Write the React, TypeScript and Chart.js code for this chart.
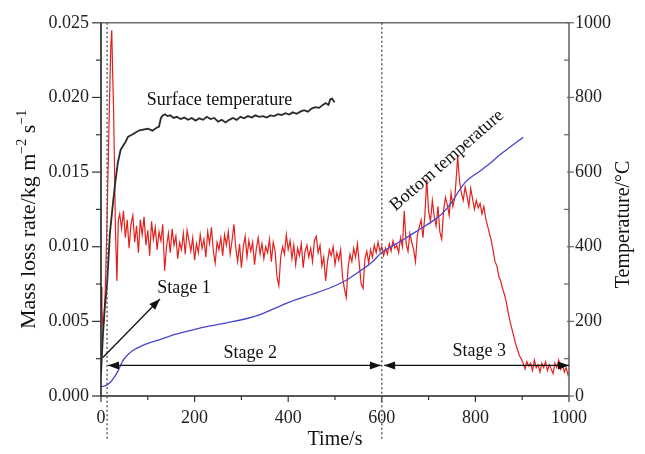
import React, { useEffect, useRef } from 'react';
import { Chart, registerables } from 'chart.js';

Chart.register(...registerables);

const FONT = '"Liberation Serif", "Times New Roman", serif';

// Mass loss rate (kg m^-2 s^-1) vs time (s)
const massLossRate: [number, number][] = [
  [0, 0.0073], [2, 0.0058], [4, 0.0046], [6, 0.0050], [9, 0.0070], [12, 0.0105], [15, 0.0150],
  [18, 0.0195], [21, 0.0235], [23, 0.0245], [25, 0.0215], [27, 0.0190], [29, 0.0150], [31, 0.0110],
  [34, 0.0077], [37, 0.0118],
  [40, 0.0122], [44, 0.0112], [48, 0.0124], [52, 0.0106], [56, 0.0118], [60, 0.0099], [64, 0.0115],
  [68, 0.0121], [72, 0.0103], [76, 0.0114], [80, 0.0096], [84, 0.0118], [88, 0.0108], [92, 0.0120],
  [96, 0.0101], [100, 0.0111], [104, 0.0094], [108, 0.0117], [112, 0.0105], [116, 0.0113], [120, 0.0098],
  [124, 0.0110], [128, 0.0104], [132, 0.0115], [136, 0.0084], [140, 0.0100], [144, 0.0109], [148, 0.0096],
  [152, 0.0112], [156, 0.0101], [160, 0.0107], [164, 0.0092], [168, 0.0103], [172, 0.0098], [176, 0.0109],
  [180, 0.0095], [184, 0.0111], [188, 0.0104], [192, 0.0097], [196, 0.0106], [200, 0.0091], [204, 0.0102],
  [208, 0.0096], [212, 0.0108], [216, 0.0099], [220, 0.0105], [224, 0.0093], [228, 0.0110], [232, 0.0102],
  [236, 0.0113], [240, 0.0097], [244, 0.0089], [248, 0.0103], [252, 0.0098], [256, 0.0106], [260, 0.0094],
  [264, 0.0108], [268, 0.0101], [272, 0.0110], [276, 0.0095], [280, 0.0104], [284, 0.0115], [288, 0.0099],
  [292, 0.0090], [296, 0.0102], [300, 0.0086], [304, 0.0100], [308, 0.0107], [312, 0.0093], [316, 0.0104],
  [320, 0.0097], [324, 0.0103], [328, 0.0088], [332, 0.0099], [336, 0.0106], [340, 0.0095], [344, 0.0102],
  [348, 0.0092], [352, 0.0100], [356, 0.0096], [360, 0.0105], [364, 0.0090], [368, 0.0103], [372, 0.0097],
  [376, 0.0080], [380, 0.0074], [384, 0.0093], [388, 0.0100], [392, 0.0095], [396, 0.0108], [400, 0.0098],
  [404, 0.0104], [408, 0.0092], [412, 0.0101], [416, 0.0088], [420, 0.0099], [424, 0.0094], [428, 0.0102],
  [432, 0.0086], [436, 0.0097], [440, 0.0101], [444, 0.0093], [448, 0.0099], [452, 0.0090], [456, 0.0104],
  [460, 0.0107], [464, 0.0096], [468, 0.0101], [472, 0.0087], [476, 0.0093], [480, 0.0077], [484, 0.0090],
  [488, 0.0098], [492, 0.0094], [496, 0.0100], [500, 0.0088], [504, 0.0096], [508, 0.0091], [512, 0.0098],
  [516, 0.0080], [520, 0.0072], [524, 0.0066], [528, 0.0086], [532, 0.0095], [536, 0.0090], [540, 0.0099],
  [544, 0.0093], [548, 0.0102], [552, 0.0088], [556, 0.0075], [560, 0.0072], [564, 0.0092], [568, 0.0097],
  [572, 0.0089], [576, 0.0098], [580, 0.0093], [584, 0.0101], [588, 0.0096], [592, 0.0103], [596, 0.0097],
  [600, 0.0100], [604, 0.0094], [608, 0.0099], [612, 0.0095], [616, 0.0102], [620, 0.0097], [624, 0.0104],
  [628, 0.0099], [632, 0.0101], [636, 0.0096], [640, 0.0106], [644, 0.0100], [648, 0.0124], [652, 0.0102],
  [656, 0.0097], [660, 0.0109], [664, 0.0103], [668, 0.0098], [672, 0.0090], [676, 0.0108], [680, 0.0113],
  [684, 0.0118], [688, 0.0106], [692, 0.0121], [696, 0.0145], [700, 0.0124], [704, 0.0117], [708, 0.0131],
  [712, 0.0120], [716, 0.0114], [720, 0.0127], [724, 0.0110], [728, 0.0105], [732, 0.0124], [736, 0.0133],
  [740, 0.0128], [744, 0.0121], [748, 0.0136], [752, 0.0127], [756, 0.0133], [760, 0.0150], [762, 0.0161],
  [766, 0.0144], [770, 0.0136], [774, 0.0131], [778, 0.0140], [782, 0.0134], [786, 0.0127], [790, 0.0139],
  [794, 0.0132], [798, 0.0125], [802, 0.0131], [806, 0.0126], [810, 0.0129], [814, 0.0122], [818, 0.0127],
  [822, 0.0119], [826, 0.0114], [830, 0.0109], [834, 0.0104], [838, 0.0097], [842, 0.0090], [846, 0.0087],
  [850, 0.0080], [854, 0.0077], [858, 0.0072], [862, 0.0068], [866, 0.0063], [870, 0.0056], [874, 0.0050],
  [878, 0.0045], [882, 0.0040], [886, 0.0035], [890, 0.0031], [894, 0.0027], [898, 0.0025], [902, 0.0022],
  [906, 0.0018], [910, 0.0023], [914, 0.0020], [918, 0.0022], [922, 0.0017], [926, 0.0024], [930, 0.0019],
  [934, 0.0021], [938, 0.0016], [942, 0.0022], [946, 0.0019], [950, 0.0023], [954, 0.0017], [958, 0.0021],
  [962, 0.0018], [966, 0.0015], [970, 0.0022], [974, 0.0019], [978, 0.0024], [982, 0.0018], [986, 0.0021],
  [990, 0.0016], [994, 0.0019], [998, 0.0014], [1000, 0.0016],
];

// Surface temperature (°C) vs time (s)
const surfaceTemperature: [number, number][] = [
  [0, 60], [4, 160], [8, 235], [13, 300], [19, 435], [25, 510], [30, 568], [36, 625], [42, 660], [47, 670],
  [52, 680], [58, 695], [66, 700], [74, 706], [82, 712], [90, 714], [100, 716], [110, 711], [118, 718],
  [124, 722], [128, 745], [132, 752], [137, 755], [142, 750], [148, 752], [155, 745], [162, 748], [170, 742],
  [178, 746], [186, 740], [194, 745], [202, 738], [210, 744], [218, 740], [226, 748], [234, 742], [242, 745],
  [250, 735], [258, 740], [266, 733], [274, 740], [282, 745], [290, 740], [298, 748], [306, 744], [314, 750],
  [322, 746], [330, 752], [338, 748], [346, 750], [354, 746], [362, 752], [370, 750], [378, 755], [386, 753],
  [394, 758], [402, 754], [410, 760], [418, 756], [426, 762], [434, 766], [442, 762], [450, 770], [458, 774],
  [466, 772], [474, 780], [480, 785], [486, 780], [490, 795], [494, 797], [497, 790], [500, 788],
];

// Bottom temperature (°C) vs time (s)
const bottomTemperature: [number, number][] = [
  [0, 25], [10, 28], [20, 37], [28, 50], [35, 64], [41, 80], [47, 95], [55, 108], [68, 122], [85, 133],
  [100, 141], [120, 149], [150, 162], [190, 175], [230, 187], [276, 198], [310, 207], [340, 218], [370, 234],
  [404, 252], [450, 272], [490, 290], [521, 308], [550, 332], [580, 360], [600, 385], [620, 400], [650, 422],
  [680, 446], [710, 470], [730, 490], [750, 520], [765, 550], [780, 575], [795, 590], [810, 603], [830, 622],
  [853, 647], [875, 668], [902, 693],
];

const stageBoundaries = [13, 600];
const stageLabels = [
  { text: 'Stage 1', t: 120, temp: 289, align: 'left' as CanvasTextAlign },
  { text: 'Stage 2', t: 319, temp: 114, align: 'center' as CanvasTextAlign },
  { text: 'Stage 3', t: 808, temp: 119, align: 'center' as CanvasTextAlign },
];
const stage1Arrow = { from: [4, 103], to: [126, 260] };
const stageSpans = [
  { from: 15, to: 598, temp: 82 },
  { from: 605, to: 1000, temp: 82 },
];

const xTitle = 'Time/s';
const yTitle = 'Mass loss rate/kg m';
const y2Title = 'Temperature/°C';

function drawArrowHead(ctx: CanvasRenderingContext2D, x1: number, y1: number, x2: number, y2: number) {
  const ang = Math.atan2(y2 - y1, x2 - x1);
  const len = 11;
  const w = 4;
  ctx.beginPath();
  ctx.moveTo(x2, y2);
  ctx.lineTo(x2 - len * Math.cos(ang) + w * Math.sin(ang), y2 - len * Math.sin(ang) - w * Math.cos(ang));
  ctx.lineTo(x2 - len * Math.cos(ang) - w * Math.sin(ang), y2 - len * Math.sin(ang) + w * Math.cos(ang));
  ctx.closePath();
  ctx.fill();
}

const overlay = {
  id: 'overlay',
  afterDraw(chart: any) {
    const ctx: CanvasRenderingContext2D = chart.ctx;
    const { left, right, top, bottom } = chart.chartArea;
    const xs = chart.scales.x;
    const ys = chart.scales.y;
    const y2s = chart.scales.y2;
    ctx.save();

    // frame
    ctx.lineWidth = 1.6;
    ctx.strokeStyle = '#6a6a6a';
    ctx.beginPath();
    ctx.moveTo(left, top);
    ctx.lineTo(right, top);
    ctx.lineTo(right, bottom);
    ctx.stroke();
    ctx.strokeStyle = '#222';
    ctx.beginPath();
    ctx.moveTo(left, top);
    ctx.lineTo(left, bottom);
    ctx.lineTo(right, bottom);
    ctx.stroke();

    // ticks
    ctx.lineWidth = 1.2;
    ctx.strokeStyle = '#333';
    xs.ticks.forEach((tk: any) => {
      const px = xs.getPixelForValue(tk.value);
      const major = tk.label !== '';
      ctx.beginPath();
      ctx.moveTo(px, bottom);
      ctx.lineTo(px, bottom + (major ? 6 : 4));
      ctx.stroke();
    });
    ys.ticks.forEach((tk: any) => {
      const py = ys.getPixelForValue(tk.value);
      const major = tk.label !== '';
      ctx.beginPath();
      ctx.moveTo(left, py);
      ctx.lineTo(left - (major ? 9 : 5), py);
      ctx.stroke();
    });
    ctx.strokeStyle = '#666';
    y2s.ticks.forEach((tk: any) => {
      const py = y2s.getPixelForValue(tk.value);
      const major = tk.label !== '';
      ctx.beginPath();
      ctx.moveTo(right - (major ? 2 : 5), py);
      ctx.lineTo(right + (major ? 5 : 0), py);
      ctx.stroke();
    });

    // dotted stage boundaries
    ctx.strokeStyle = '#555';
    ctx.lineWidth = 1.4;
    ctx.setLineDash([2, 2.5]);
    stageBoundaries.forEach((t) => {
      const px = xs.getPixelForValue(t);
      ctx.beginPath();
      ctx.moveTo(px, top);
      ctx.lineTo(px, bottom + 44);
      ctx.stroke();
    });
    ctx.setLineDash([]);

    // arrows
    ctx.strokeStyle = '#111';
    ctx.fillStyle = '#111';
    ctx.lineWidth = 1.3;
    {
      const x1 = xs.getPixelForValue(stage1Arrow.from[0]);
      const y1 = y2s.getPixelForValue(stage1Arrow.from[1]);
      const x2 = xs.getPixelForValue(stage1Arrow.to[0]);
      const y2 = y2s.getPixelForValue(stage1Arrow.to[1]);
      ctx.beginPath();
      ctx.moveTo(x1, y1);
      ctx.lineTo(x2, y2);
      ctx.stroke();
      drawArrowHead(ctx, x1, y1, x2, y2);
    }
    stageSpans.forEach((s) => {
      const xa = xs.getPixelForValue(s.from);
      const xb = xs.getPixelForValue(s.to);
      const py = y2s.getPixelForValue(s.temp);
      ctx.beginPath();
      ctx.moveTo(xa, py);
      ctx.lineTo(xb, py);
      ctx.stroke();
      drawArrowHead(ctx, xb, py, xa, py);
      drawArrowHead(ctx, xa, py, xb, py);
    });

    // annotations
    ctx.fillStyle = '#111';
    ctx.font = `18px ${FONT}`;
    ctx.textBaseline = 'middle';
    stageLabels.forEach((l) => {
      ctx.textAlign = l.align;
      ctx.fillText(l.text, xs.getPixelForValue(l.t), y2s.getPixelForValue(l.temp));
    });
    ctx.textAlign = 'left';
    ctx.textBaseline = 'alphabetic';
    ctx.fillText('Surface temperature', xs.getPixelForValue(98), y2s.getPixelForValue(780));
    ctx.save();
    ctx.translate(xs.getPixelForValue(739), y2s.getPixelForValue(631));
    ctx.rotate((-41 * Math.PI) / 180);
    ctx.textAlign = 'center';
    ctx.textBaseline = 'middle';
    ctx.fillText('Bottom temperature', 0, 0);
    ctx.restore();

    // axis titles
    ctx.fillStyle = '#111';
    ctx.font = `20px ${FONT}`;
    ctx.textAlign = 'center';
    ctx.textBaseline = 'alphabetic';
    ctx.fillText(xTitle, (left + right) / 2, 445);

    // left title with superscripts
    ctx.save();
    ctx.translate(35, (top + bottom) / 2 + 10);
    ctx.rotate(-Math.PI / 2);
    const mainFont = `22px ${FONT}`;
    const supFont = `14px ${FONT}`;
    const parts: [string, boolean][] = [[yTitle, false], ['\u22122', true], [' s', false], ['\u22121', true]];
    let total = 0;
    parts.forEach(([s, sup]) => {
      ctx.font = sup ? supFont : mainFont;
      total += ctx.measureText(s).width;
    });
    let cx = -total / 2;
    ctx.textAlign = 'left';
    parts.forEach(([s, sup]) => {
      ctx.font = sup ? supFont : mainFont;
      ctx.fillText(s, cx, sup ? -9 : 0);
      cx += ctx.measureText(s).width;
    });
    ctx.restore();

    // right title
    ctx.save();
    ctx.translate(629, (top + bottom) / 2 + 15);
    ctx.rotate(-Math.PI / 2);
    ctx.font = `20px ${FONT}`;
    ctx.textAlign = 'center';
    ctx.fillText(y2Title, 0, 0);
    ctx.restore();

    ctx.restore();
  },
};

export default function App() {
  const ref = useRef<HTMLCanvasElement>(null);
  useEffect(() => {
    document.body.style.margin = '0';
    const canvas = ref.current!;
    const tickFont = { family: FONT, size: 18 };
    const chart = new Chart(canvas, {
      type: 'line',
      data: {
        datasets: [
          {
            label: 'Surface temperature',
            data: surfaceTemperature.map(([x, y]) => ({ x, y })),
            yAxisID: 'y2',
            borderColor: '#2a2a2a',
            borderWidth: 1.8,
            pointRadius: 0,
            tension: 0,
          },
          {
            label: 'Bottom temperature',
            data: bottomTemperature.map(([x, y]) => ({ x, y })),
            yAxisID: 'y2',
            borderColor: '#4646cc',
            borderWidth: 1.3,
            pointRadius: 0,
            tension: 0.3,
          },
          {
            label: 'Mass loss rate',
            data: massLossRate.map(([x, y]) => ({ x, y })),
            yAxisID: 'y',
            borderColor: '#e3201c',
            borderWidth: 1.2,
            pointRadius: 0,
            tension: 0,
          },
        ],
      },
      options: {
        animation: false,
        responsive: false,
        maintainAspectRatio: false,
        layout: { padding: { top: 19, left: 0, right: 0, bottom: 0 } },
        plugins: { legend: { display: false }, tooltip: { enabled: false } },
        scales: {
          x: {
            type: 'linear',
            min: 0,
            max: 1000,
            grid: { display: false, drawTicks: false },
            border: { display: false },
            ticks: {
              stepSize: 100,
              autoSkip: false,
              maxRotation: 0,
              font: tickFont,
              color: '#222',
              padding: 11,
              callback: (v: any) => (Number(v) % 200 === 0 ? String(v) : ''),
            },
            afterFit: (s: any) => { s.height = 58; },
          },
          y: {
            type: 'linear',
            position: 'left',
            min: 0,
            max: 0.025,
            grid: { display: false, drawTicks: false },
            border: { display: false },
            ticks: {
              stepSize: 0.0025,
              autoSkip: false,
              font: tickFont,
              color: '#222',
              padding: 12,
              callback: (v: any) => (Math.round(Number(v) / 0.0025) % 2 === 0 ? Number(v).toFixed(3) : ''),
            },
            afterFit: (s: any) => { s.width = 101; },
          },
          y2: {
            type: 'linear',
            position: 'right',
            min: 0,
            max: 1000,
            grid: { display: false, drawTicks: false },
            border: { display: false },
            ticks: {
              stepSize: 100,
              autoSkip: false,
              font: tickFont,
              color: '#222',
              padding: 6,
              callback: (v: any) => (Number(v) % 200 === 0 ? String(v) : ''),
            },
            afterFit: (s: any) => { s.width = 76; },
          },
        },
      },
      plugins: [overlay],
    });
    return () => chart.destroy();
  }, []);
  return <canvas ref={ref} width={645} height={454} style={{ display: 'block' }} />;
}
